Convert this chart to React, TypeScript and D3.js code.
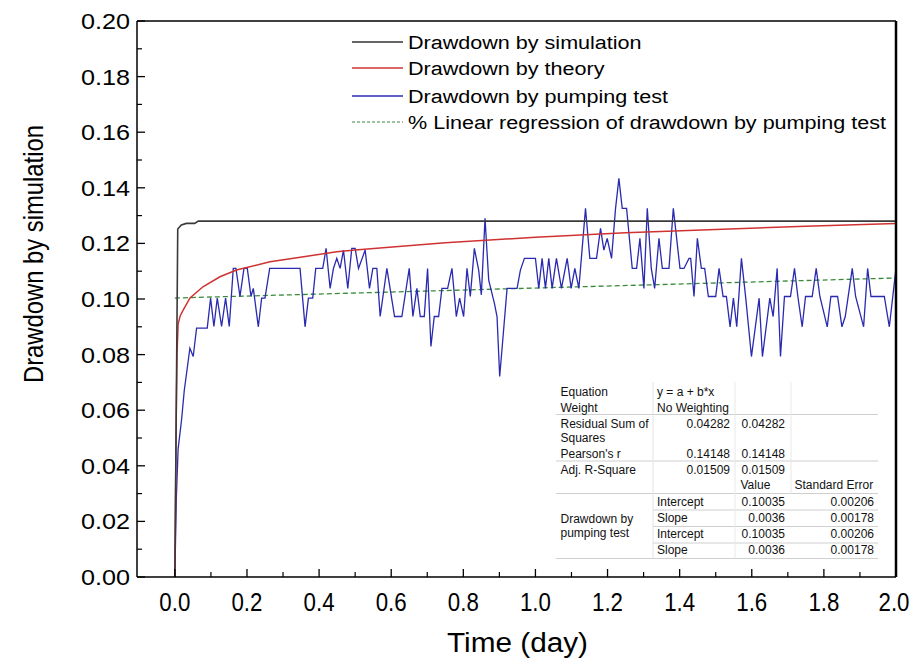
import React from "react";
import * as d3 from "d3";

// ---------- data ----------
const simulationData: [number, number][] = [
  [0, 0], [0.008, 0.1252], [0.018, 0.1266], [0.032, 0.1272], [0.055, 0.1272],
  [0.065, 0.128], [2.0, 0.128],
];

const theoryData: [number, number][] = [
  [0, 0], [0.002, 0.03], [0.004, 0.06], [0.006, 0.08], [0.009, 0.091],
  [0.015, 0.094], [0.023, 0.096], [0.042, 0.1004], [0.078, 0.1044],
  [0.125, 0.108], [0.171, 0.1104], [0.264, 0.1134], [0.357, 0.1152],
  [0.449, 0.117], [0.5, 0.1176], [0.75, 0.1202], [1.0, 0.1222],
  [1.25, 0.1238], [1.5, 0.125], [1.75, 0.1262], [2.0, 0.1272],
];

const pumpingData: [number, number][] = [
  [0, 0], [0.004, 0.028], [0.009, 0.046], [0.019, 0.057], [0.026, 0.067],
  [0.0417, 0.0823], [0.0509, 0.0793], [0.0602, 0.0895], [0.0898, 0.0895],
  [0.0991, 0.1003], [0.1083, 0.0901], [0.1176, 0.1003], [0.1296, 0.0901],
  [0.1407, 0.1003], [0.1509, 0.0901], [0.162, 0.111], [0.1694, 0.111],
  [0.1806, 0.1009], [0.1917, 0.111], [0.2009, 0.111], [0.2111, 0.101],
  [0.2176, 0.1038], [0.2315, 0.09], [0.2407, 0.1003], [0.25, 0.1003],
  [0.263, 0.111], [0.3472, 0.111], [0.3611, 0.09], [0.3704, 0.1003],
  [0.3824, 0.1003], [0.3907, 0.111], [0.4102, 0.111], [0.4194, 0.1182],
  [0.4306, 0.1038], [0.4398, 0.111], [0.4491, 0.1146], [0.4583, 0.111],
  [0.4676, 0.1176], [0.4796, 0.1038], [0.4907, 0.1182], [0.5, 0.1182],
  [0.5093, 0.111], [0.5278, 0.1176], [0.5398, 0.1038], [0.5491, 0.111],
  [0.5602, 0.111], [0.5694, 0.0937], [0.588, 0.111], [0.6093, 0.0937],
  [0.6296, 0.0937], [0.65, 0.111], [0.6602, 0.0937], [0.6713, 0.1038],
  [0.6806, 0.0937], [0.6917, 0.0937], [0.7009, 0.111], [0.7102, 0.0829],
  [0.7194, 0.0937], [0.7315, 0.0937], [0.7407, 0.1038], [0.7565, 0.1038],
  [0.7685, 0.111], [0.7806, 0.0937], [0.7898, 0.1003], [0.8009, 0.0937],
  [0.8102, 0.111], [0.8194, 0.1009], [0.8306, 0.1182], [0.8426, 0.1104],
  [0.85, 0.1015], [0.8602, 0.129], [0.8704, 0.1068], [0.8861, 0.0985],
  [0.8935, 0.0937], [0.9009, 0.0721], [0.9102, 0.0864], [0.9213, 0.1038],
  [0.9491, 0.1038], [0.9583, 0.1104], [0.9694, 0.1146], [1.0, 0.1146],
  [1.0093, 0.1038], [1.0185, 0.1146], [1.0278, 0.1038], [1.037, 0.1146],
  [1.0463, 0.1038], [1.0583, 0.1146], [1.0722, 0.1038], [1.088, 0.1146],
  [1.0991, 0.1038], [1.1093, 0.111], [1.1204, 0.1038], [1.1389, 0.1326],
  [1.1509, 0.1146], [1.1694, 0.1146], [1.1806, 0.1254], [1.1898, 0.1176],
  [1.1991, 0.1218], [1.2111, 0.1146], [1.2222, 0.1326], [1.2315, 0.1434],
  [1.2407, 0.1326], [1.2528, 0.1326], [1.2685, 0.111], [1.2806, 0.111],
  [1.2898, 0.1218], [1.3009, 0.1038], [1.3102, 0.1326], [1.3213, 0.111],
  [1.3306, 0.1038], [1.3426, 0.1218], [1.3519, 0.111], [1.3704, 0.111],
  [1.3824, 0.1326], [1.4009, 0.111], [1.412, 0.111], [1.4259, 0.1146],
  [1.4306, 0.1146], [1.4398, 0.1009], [1.4491, 0.1218], [1.4602, 0.111],
  [1.4694, 0.111], [1.4796, 0.1009], [1.5, 0.1009], [1.5093, 0.111],
  [1.5204, 0.1009], [1.5296, 0.1009], [1.5398, 0.09], [1.5491, 0.1003],
  [1.5583, 0.09], [1.5713, 0.1146], [1.5833, 0.1003], [1.5991, 0.0793],
  [1.6204, 0.1003], [1.6296, 0.0793], [1.65, 0.1003], [1.6593, 0.0937],
  [1.6704, 0.111], [1.6796, 0.0793], [1.6907, 0.1009], [1.7074, 0.1009],
  [1.7185, 0.111], [1.7278, 0.1009], [1.7398, 0.09], [1.7491, 0.1009],
  [1.7676, 0.1009], [1.7787, 0.111], [1.7889, 0.1009], [1.8093, 0.09],
  [1.8194, 0.1009], [1.838, 0.1009], [1.85, 0.09], [1.8593, 0.0937],
  [1.8787, 0.111], [1.888, 0.1009], [1.9102, 0.09], [1.9213, 0.111],
  [1.9306, 0.1009], [1.9676, 0.1009], [1.9815, 0.09], [2.0, 0.111],
];

const regressionData: [number, number][] = [
  [0, 0.10035],
  [2.0, 0.10755],
];

const xTickValues = [0, 0.2, 0.4, 0.6, 0.8, 1.0, 1.2, 1.4, 1.6, 1.8, 2.0];
const yTickValues = [0, 0.02, 0.04, 0.06, 0.08, 0.1, 0.12, 0.14, 0.16, 0.18, 0.2];

const legendLabels = [
  "Drawdown by simulation",
  "Drawdown by theory",
  "Drawdown by pumping test",
  "% Linear regression of drawdown by pumping test",
];

const tableTopRows: [string, string, string][] = [
  ["Residual Sum of", "0.04282", "0.04282"],
  ["Pearson's r", "0.14148", "0.14148"],
  ["Adj. R-Square", "0.01509", "0.01509"],
];
const tableParamRows: [string, string, string][] = [
  ["Intercept", "0.10035", "0.00206"],
  ["Slope", "0.0036", "0.00178"],
  ["Intercept", "0.10035", "0.00206"],
  ["Slope", "0.0036", "0.00178"],
];

// ---------- layout ----------
const W = 913;
const H = 664;
const L = 137;
const R = 896;
const T = 21;
const B = 577;
const FONT = "'Liberation Sans', Arial, sans-serif";

export default function App() {
  const x = d3.scaleLinear().domain([-0.105, 2.0]).range([L, R]);
  const y = d3.scaleLinear().domain([0, 0.2]).range([B, T]);
  const line = d3
    .line<[number, number]>()
    .x((d) => x(d[0]))
    .y((d) => y(d[1]));

  const xMinor = d3.range(0.1, 2.0, 0.2);
  const yMinor = d3.range(0.01, 0.2, 0.02);

  const legendColors = ["#333333", "#d03232", "#2a2ab0", "#3a8a3a"];
  const legendY = [42, 68, 96, 122];

  // table geometry
  const tL = 556, tR = 878, c1 = 653, c2 = 735, c3 = 791;
  const rowLine = "#cfcfcf";

  return (
    <svg
      width={W}
      height={H}
      style={{ position: "absolute", left: 0, top: 0, background: "#fff" }}
      fontFamily={FONT}
    >
      <rect x={0} y={0} width={W} height={H} fill="#fff" />
      <defs>
        <clipPath id="plotclip">
          <rect x={L} y={T - 2} width={R - L} height={B - T + 2} />
        </clipPath>
      </defs>

      {/* data lines */}
      <g clipPath="url(#plotclip)" fill="none">
        <path d={line(regressionData) || ""} stroke="#3a8a3a" strokeWidth={1.3} strokeDasharray="5,3" />
        <path d={line(pumpingData) || ""} stroke="#2a2ab0" strokeWidth={1.3} />
        <path d={line(theoryData) || ""} stroke="#d03232" strokeWidth={1.5} />
        <path d={line(simulationData) || ""} stroke="#3a3a3a" strokeWidth={1.6} />
      </g>

      {/* frame */}
      <line x1={L} y1={T} x2={R} y2={T} stroke="#000" strokeWidth={1.5} />
      <line x1={L} y1={T} x2={L} y2={B} stroke="#000" strokeWidth={1.5} />
      <line x1={L} y1={B} x2={R} y2={B} stroke="#000" strokeWidth={1.5} />
      <line x1={R} y1={T} x2={R} y2={B} stroke="#000" strokeWidth={2.5} />

      {/* y ticks */}
      {yTickValues.map((v) => (
        <g key={"yt" + v}>
          <line x1={L} x2={L + 8} y1={y(v)} y2={y(v)} stroke="#000" strokeWidth={1.3} />
          <text
            x={130}
            y={y(v) + 8}
            textAnchor="end"
            fontSize={22}
            textLength={49}
            lengthAdjust="spacingAndGlyphs"
          >
            {v.toFixed(2)}
          </text>
        </g>
      ))}
      {yMinor.map((v) => (
        <line key={"ym" + v} x1={L} x2={L + 5} y1={y(v)} y2={y(v)} stroke="#000" strokeWidth={1.2} />
      ))}

      {/* x ticks */}
      {xTickValues.map((v) => (
        <g key={"xt" + v}>
          <line x1={x(v)} x2={x(v)} y1={B} y2={B - 8} stroke="#000" strokeWidth={1.3} />
          <text
            x={Math.min(x(v), 894)}
            y={611}
            textAnchor="middle"
            fontSize={25}
            textLength={31}
            lengthAdjust="spacingAndGlyphs"
          >
            {v.toFixed(1)}
          </text>
        </g>
      ))}
      {xMinor.map((v) => (
        <line key={"xm" + v} x1={x(v)} x2={x(v)} y1={B} y2={B - 5} stroke="#000" strokeWidth={1.2} />
      ))}

      {/* axis titles */}
      <text
        x={(L + R) / 2 + 1}
        y={652}
        textAnchor="middle"
        fontSize={27}
        textLength={141}
        lengthAdjust="spacingAndGlyphs"
      >
        Time (day)
      </text>
      <text
        transform={`translate(43, ${(T + B) / 2 - 45}) rotate(-90)`}
        textAnchor="middle"
        fontSize={28}
        textLength={258}
        lengthAdjust="spacingAndGlyphs"
      >
        Drawdown by simulation
      </text>

      {/* legend */}
      {legendLabels.map((lab, i) => (
        <g key={lab}>
          <line
            x1={352}
            x2={403}
            y1={legendY[i]}
            y2={legendY[i]}
            stroke={legendColors[i]}
            strokeWidth={i === 3 ? 1.2 : 1.3}
            strokeDasharray={i === 3 ? "3,2" : undefined}
          />
          <text transform={`translate(408, ${legendY[i] + 7}) scale(1.135, 1)`} fontSize={19}>
            {lab}
          </text>
        </g>
      ))}

      {/* stats table */}
      <g fontSize={12} fill="#111">
        <rect x={tL} y={381} width={tR - tL} height={178} fill="#fff" />
        <line x1={tL} x2={tR} y1={414.5} y2={414.5} stroke={rowLine} />
        <line x1={tL} x2={tR} y1={461} y2={461} stroke={rowLine} />
        <line x1={tL} x2={tR} y1={493.5} y2={493.5} stroke={rowLine} />
        <line x1={c1} x2={tR} y1={510} y2={510} stroke={rowLine} />
        <line x1={c1} x2={tR} y1={526.5} y2={526.5} stroke={rowLine} />
        <line x1={c1} x2={tR} y1={543} y2={543} stroke={rowLine} />
        <line x1={tL} x2={tR} y1={558.5} y2={558.5} stroke={rowLine} />
        <line x1={c1} x2={c1} y1={382} y2={558.5} stroke="#e2e2e2" />
        <line x1={c2} x2={c2} y1={382} y2={558.5} stroke="#e8e8e8" />
        <line x1={c3} x2={c3} y1={382} y2={493.5} stroke="#e8e8e8" />

        <text x={560.5} y={396}>Equation</text>
        <text x={560.5} y={411.5}>Weight</text>
        <text x={657} y={396}>y = a + b*x</text>
        <text x={657} y={411.5}>No Weighting</text>

        {tableTopRows.map((r, i) => {
          const yy = [427.5, 458, 474][i];
          return (
            <g key={"tr" + i}>
              <text x={560.5} y={yy}>{r[0]}</text>
              <text x={730} y={yy} textAnchor="end">{r[1]}</text>
              <text x={785} y={yy} textAnchor="end">{r[2]}</text>
            </g>
          );
        })}
        <text x={560.5} y={441.5}>Squares</text>

        <text x={740.5} y={489}>Value</text>
        <text x={794.5} y={489}>Standard Error</text>

        {tableParamRows.map((r, i) => {
          const yy = [505.5, 521.5, 538, 553.5][i];
          return (
            <g key={"pr" + i}>
              <text x={657} y={yy}>{r[0]}</text>
              <text x={785} y={yy} textAnchor="end">{r[1]}</text>
              <text x={874} y={yy} textAnchor="end">{r[2]}</text>
            </g>
          );
        })}
        <text x={560.5} y={523}>Drawdown by</text>
        <text x={560.5} y={536.5}>pumping test</text>
      </g>
    </svg>
  );
}
